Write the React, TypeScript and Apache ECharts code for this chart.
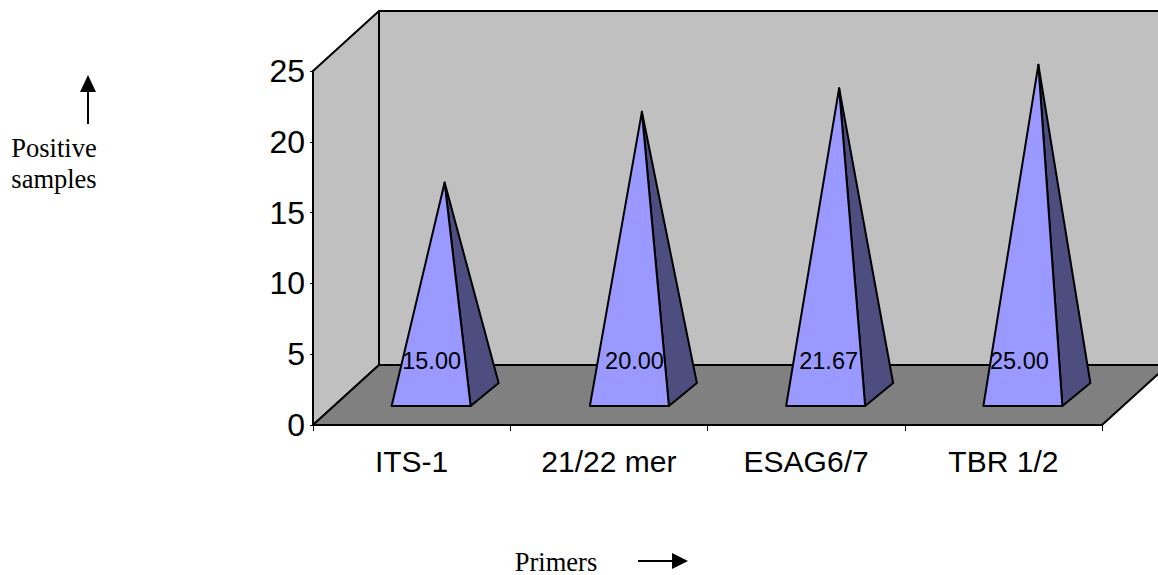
import React, { useEffect, useRef } from "react";
import * as echarts from "echarts";

const categories = ["ITS-1", "21/22 mer", "ESAG6/7", "TBR 1/2"];
// Heights as drawn in the picture
const drawnValues = [15, 20, 21.67, 23.33];
// Texts printed on the pyramids
const valueLabels = ["15.00", "20.00", "21.67", "25.00"];
const yTicks = { min: 0, max: 25, interval: 5 };

const SANS = '"Liberation Sans", Arial, sans-serif';
const SERIF = '"Liberation Serif", "Times New Roman", serif';
const STROKE = { stroke: "#000", lineWidth: 2, lineJoin: "round" as const };
const serifFont = `26.5px ${SERIF}`;

export default function App() {
  const ref = useRef<HTMLDivElement>(null);
  useEffect(() => {
    if (!ref.current) return;
    const chart = echarts.init(ref.current, undefined, { renderer: "svg", width: 1158, height: 575 });
    // Small per-pyramid pixel adjustments of the drawing, not data
    const labelShift = [20, 25.6, 22.5, 16];
    const baseShift = [0, 1, 0, 0];
    const apexShift = [0, 0, 0, 2];
    chart.setOption({
      animation: false,
      backgroundColor: "#fff",
      grid: { left: 313, right: 56, top: 71, bottom: 150, containLabel: false },
      xAxis: {
        type: "category",
        data: categories,
        axisLine: { show: true, lineStyle: { color: "#000", width: 2 } },
        axisTick: { show: true, length: 6, lineStyle: { color: "#000", width: 1 }, alignWithLabel: false },
        axisLabel: { color: "#000", fontFamily: SANS, fontSize: 30, margin: 21, interval: 0 },
      },
      yAxis: {
        type: "value",
        ...yTicks,
        splitLine: { show: false },
        axisLine: { show: true, lineStyle: { color: "#000", width: 2 } },
        axisTick: { show: true, length: 3, lineStyle: { color: "#000", width: 1 } },
        axisLabel: { color: "#000", fontFamily: SANS, fontSize: 32, margin: 8 },
      },
      graphic: [
        { type: "polygon", z: -3, shape: { points: [[379, 11], [1170, 11], [1170, 365], [379, 365]] }, style: { fill: "#C0C0C0", ...STROKE } },
        { type: "polygon", z: -2, shape: { points: [[313, 71], [379, 11], [379, 365], [313, 425]] }, style: { fill: "#C0C0C0", ...STROKE } },
        { type: "polygon", z: -1, shape: { points: [[313, 425], [379, 365], [1168, 365], [1102, 425]] }, style: { fill: "#808080", ...STROKE } },
        { type: "line", shape: { x1: 88, y1: 124, x2: 88, y2: 88 }, style: { stroke: "#000", lineWidth: 2 } },
        { type: "polygon", shape: { points: [[88, 75], [96, 92], [80, 92]] }, style: { fill: "#000" } },
        { type: "text", style: { text: "Positive", x: 54, y: 148, align: "center", verticalAlign: "middle", font: serifFont, fill: "#000" } },
        { type: "text", style: { text: "samples", x: 54, y: 179, align: "center", verticalAlign: "middle", font: serifFont, fill: "#000" } },
        { type: "text", style: { text: "Primers", x: 556, y: 561.5, align: "center", verticalAlign: "middle", font: serifFont, fill: "#000" } },
        { type: "line", shape: { x1: 638, y1: 561, x2: 675, y2: 561 }, style: { stroke: "#000", lineWidth: 2 } },
        { type: "polygon", shape: { points: [[688, 561], [672, 553], [672, 569]] }, style: { fill: "#000" } },
      ],
      series: [
        {
          type: "custom",
          coordinateSystem: "cartesian2d",
          clip: false,
          encode: { x: 0, y: 1 },
          data: drawnValues.map((v, i) => [i, v]),
          renderItem: (_params: any, api: any) => {
            const i = api.value(0);
            const v = api.value(1);
            const [cx, y0] = api.coord([i, 0]);
            const [, yTop] = api.coord([i, v]);
            const b = baseShift[i];
            const fl = [cx - 20 + b, y0 - 19];
            const fr = [cx + 59 + b, y0 - 19];
            const br = [cx + 87 + b, y0 - 42];
            const apex = [cx + 33 + apexShift[i], yTop - 30];
            return {
              type: "group",
              children: [
                { type: "polygon", shape: { points: [fr, br, apex] }, style: { fill: "#4D4D80", ...STROKE } },
                { type: "polygon", shape: { points: [fl, fr, apex] }, style: { fill: "#9999FF", ...STROKE } },
                {
                  type: "text",
                  style: {
                    text: valueLabels[i],
                    x: cx + labelShift[i],
                    y: y0 - 64.5,
                    align: "center",
                    verticalAlign: "middle",
                    font: `23.5px ${SANS}`,
                    fill: "#000",
                  },
                },
              ],
            };
          },
        },
      ],
    });
    return () => chart.dispose();
  }, []);
  return <div ref={ref} style={{ position: "absolute", left: 0, top: 0, width: 1158, height: 575 }} />;
}
